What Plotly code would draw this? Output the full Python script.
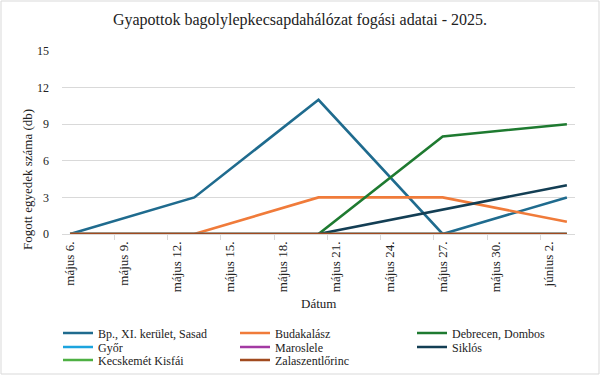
import plotly.graph_objects as go

dates = ["2025-05-06", "2025-05-13", "2025-05-20", "2025-05-27", "2025-06-03"]
series_names = ["Bp., XI. kerület, Sasad", "Budakalász", "Debrecen, Dombos", "Győr",
                "Maroslele", "Siklós", "Kecskemét Kisfái", "Zalaszentlőrinc"]
sasad = [0, 3, 11, 0, 3]
budakalasz = [0, 0, 3, 3, 1]
debrecen = [None, None, 0, 8, 9]
gyor = [0, 0, 0, 0, 0]
maroslele = [0, 0, 0, 0, 0]
siklos = [None, None, 0, 2, 4]
kecskemet = [0, 0, 0, 0, 0]
zala = [0, 0, 0, 0, 0]
values = [sasad, budakalasz, debrecen, gyor, maroslele, siklos, kecskemet, zala]
colors = ["#1F6B8E", "#F07B3A", "#1E7A30", "#1CA4DE", "#A33AA3", "#133E54", "#4EB043", "#A14A1F"]

tick_dates = ["2025-05-06", "2025-05-09", "2025-05-12", "2025-05-15", "2025-05-18",
              "2025-05-21", "2025-05-24", "2025-05-27", "2025-05-30", "2025-06-02"]
tick_labels = ["május 6.", "május 9.", "május 12.", "május 15.", "május 18.",
               "május 21.", "május 24.", "május 27.", "május 30.", "június 2."]

FONT = "Liberation Serif"
TXT = "#222222"
L, T, PW, PH = 62, 51, 513, 183

fig = go.Figure()
legend_layout = {}
col_px = [58, 235, 412]
row_px = [333, 347, 360]
for i, (name, vals, col) in enumerate(zip(series_names, values, colors)):
    key = "legend" if i == 0 else f"legend{i + 1}"
    fig.add_trace(go.Scatter(x=dates, y=vals, name=name, mode="lines", legend=key,
                             line=dict(color=col, width=2.6)))
    r, c = divmod(i, 3)
    legend_layout[key] = dict(
        orientation="h", x=(col_px[c] - L) / PW, xanchor="left",
        y=(T + PH - row_px[r]) / PH, yanchor="middle",
        font=dict(family=FONT, size=12, color=TXT),
        bgcolor="rgba(0,0,0,0)", borderwidth=0)

fig.update_layout(
    width=600, height=375,
    margin=dict(l=L, r=600 - L - PW, t=T, b=375 - T - PH, autoexpand=False),
    paper_bgcolor="white", plot_bgcolor="white",
    font=dict(family=FONT, size=12, color=TXT),
    title=dict(text="Gyapottok bagolylepkecsapdahálózat fogási adatai - 2025.",
               x=0.5, xanchor="center", y=0.947, yanchor="middle",
               font=dict(family=FONT, size=16, color=TXT)),
    xaxis=dict(type="date", range=["2025-05-05 13:00", "2025-06-03 11:00"],
               tickvals=tick_dates, ticktext=tick_labels, tickangle=-90,
               showgrid=False, zeroline=False, showline=False, ticks="",
               ticklabelstandoff=4,
               tickfont=dict(family=FONT, size=13, color=TXT),
               minor=dict(tick0="2025-05-05 12:00", dtick=3 * 86400000, ticks="outside",
                          ticklen=5, tickcolor="#D9D9D9", showgrid=False)),
    yaxis=dict(range=[0, 15], tickvals=[0, 3, 6, 9, 12, 15],
               showgrid=True, gridcolor="#D9D9D9", gridwidth=1,
               zeroline=True, zerolinecolor="#D9D9D9", zerolinewidth=1,
               showline=False, ticks="", ticklabelstandoff=12,
               tickfont=dict(family=FONT, size=12, color=TXT)),
    showlegend=True,
    annotations=[
        dict(text="Fogott egyedek száma (db)", xref="paper", yref="paper",
             x=(27 - L) / PW, y=(T + PH - 180) / PH, textangle=-90, showarrow=False,
             xanchor="center", yanchor="middle", font=dict(family=FONT, size=13, color=TXT)),
        dict(text="Dátum", xref="paper", yref="paper",
             x=0.5, y=(T + PH - 303) / PH, showarrow=False,
             xanchor="center", yanchor="middle", font=dict(family=FONT, size=13, color=TXT)),
    ],
    **legend_layout,
)
fig.add_shape(type="rect", xref="paper", yref="paper",
              x0=(1 - L) / PW, x1=(599 - L) / PW, y0=(T + PH - 374) / PH, y1=(T + PH - 1) / PH,
              line=dict(color="#D9D9D9", width=1), fillcolor="rgba(0,0,0,0)", layer="below")
fig.write_html("out.html", post_script="document.body.style.margin='0';",
               config={"displayModeBar": False})
